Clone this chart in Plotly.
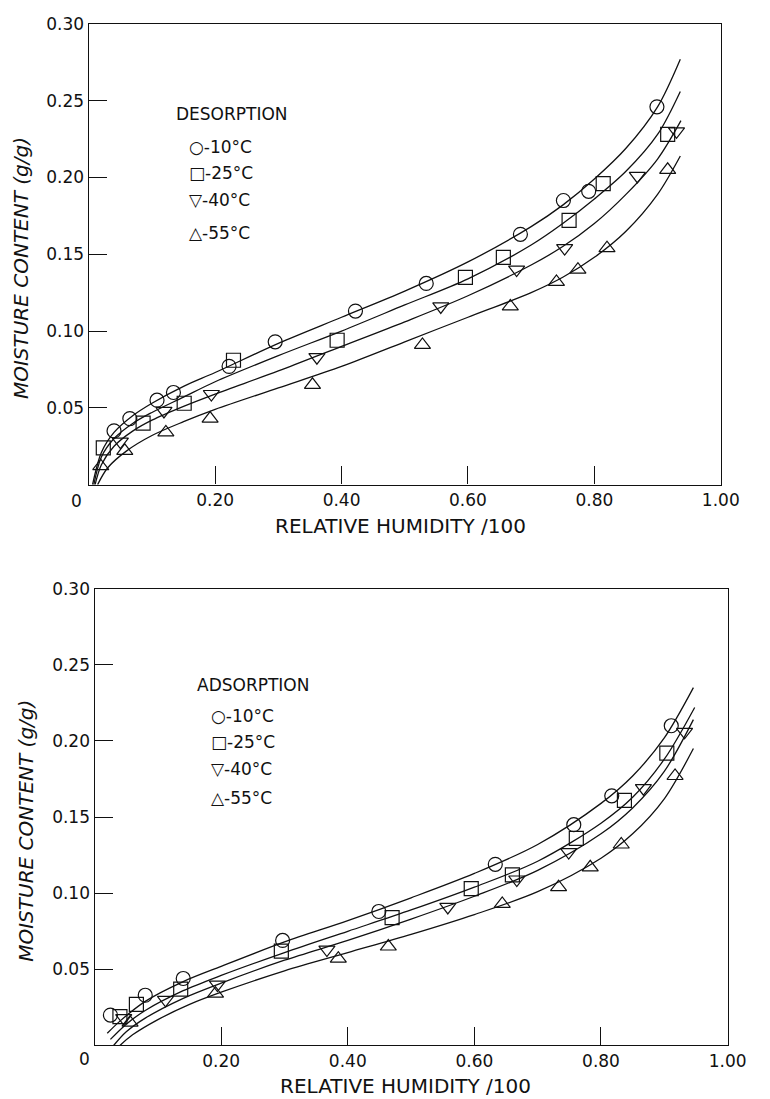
import plotly.graph_objects as go

# ---------------- DATA ----------------
temps = ["10°C", "25°C", "40°C", "55°C"]
symbols = ["circle-open", "square-open", "triangle-down-open", "triangle-up-open"]
legend_glyphs = ["○", "□", "▽", "△"]

# Desorption measured points
des_10_x = [0.04, 0.065, 0.108, 0.134, 0.222, 0.295, 0.422, 0.534, 0.683, 0.751, 0.791, 0.899]
des_10_y = [0.035, 0.043, 0.055, 0.060, 0.077, 0.093, 0.113, 0.131, 0.163, 0.185, 0.191, 0.246]
des_25_x = [0.023, 0.086, 0.151, 0.229, 0.393, 0.596, 0.656, 0.760, 0.814, 0.916]
des_25_y = [0.024, 0.040, 0.053, 0.081, 0.094, 0.135, 0.148, 0.172, 0.196, 0.228]
des_40_x = [0.05, 0.119, 0.194, 0.361, 0.557, 0.677, 0.753, 0.868, 0.930]
des_40_y = [0.028, 0.048, 0.059, 0.083, 0.116, 0.140, 0.154, 0.201, 0.230]
des_55_x = [0.019, 0.057, 0.122, 0.192, 0.354, 0.528, 0.667, 0.740, 0.774, 0.820, 0.916]
des_55_y = [0.012, 0.022, 0.034, 0.043, 0.065, 0.091, 0.116, 0.132, 0.140, 0.154, 0.205]

# Desorption fitted curves (traced)
desc_10_x = [0.006, 0.02, 0.04, 0.07, 0.1, 0.15, 0.2, 0.3, 0.4, 0.5, 0.6, 0.7, 0.75, 0.8, 0.85, 0.9, 0.936]
desc_10_y = [0.0, 0.021, 0.034, 0.045, 0.053, 0.064, 0.073, 0.092, 0.109, 0.126, 0.145, 0.168, 0.182, 0.199, 0.219, 0.246, 0.277]
desc_25_x = [0.008, 0.02, 0.04, 0.07, 0.1, 0.15, 0.2, 0.3, 0.4, 0.5, 0.6, 0.7, 0.75, 0.8, 0.85, 0.9, 0.936]
desc_25_y = [0.0, 0.018, 0.030, 0.040, 0.047, 0.057, 0.067, 0.084, 0.100, 0.117, 0.134, 0.156, 0.170, 0.186, 0.204, 0.228, 0.256]
desc_40_x = [0.01, 0.02, 0.04, 0.07, 0.1, 0.15, 0.2, 0.3, 0.4, 0.5, 0.6, 0.7, 0.75, 0.8, 0.85, 0.9, 0.937]
desc_40_y = [0.0, 0.013, 0.025, 0.035, 0.042, 0.051, 0.059, 0.074, 0.090, 0.106, 0.123, 0.143, 0.155, 0.170, 0.189, 0.212, 0.237]
desc_55_x = [0.014, 0.03, 0.06, 0.1, 0.15, 0.2, 0.3, 0.4, 0.5, 0.6, 0.7, 0.75, 0.8, 0.85, 0.9, 0.936]
desc_55_y = [0.0, 0.011, 0.022, 0.032, 0.041, 0.049, 0.063, 0.077, 0.093, 0.109, 0.125, 0.135, 0.148, 0.165, 0.189, 0.214]

# Adsorption measured points
ads_10_x = [0.025, 0.080, 0.140, 0.297, 0.449, 0.633, 0.757, 0.817, 0.911]
ads_10_y = [0.020, 0.033, 0.044, 0.069, 0.088, 0.119, 0.145, 0.164, 0.210]
ads_25_x = [0.040, 0.066, 0.136, 0.295, 0.470, 0.595, 0.660, 0.761, 0.837, 0.904]
ads_25_y = [0.019, 0.027, 0.037, 0.062, 0.084, 0.103, 0.112, 0.136, 0.161, 0.192]
ads_40_x = [0.046, 0.112, 0.194, 0.367, 0.558, 0.667, 0.749, 0.867, 0.932]
ads_40_y = [0.018, 0.030, 0.040, 0.063, 0.091, 0.109, 0.127, 0.169, 0.206]
ads_55_x = [0.056, 0.191, 0.385, 0.464, 0.644, 0.733, 0.783, 0.832, 0.917]
ads_55_y = [0.015, 0.034, 0.057, 0.065, 0.093, 0.104, 0.117, 0.132, 0.177]

# Adsorption fitted curves (traced)
adsc_10_x = [0.02, 0.04, 0.08, 0.14, 0.2, 0.3, 0.4, 0.5, 0.6, 0.7, 0.8, 0.85, 0.9, 0.946]
adsc_10_y = [0.008, 0.016, 0.029, 0.042, 0.052, 0.068, 0.082, 0.097, 0.113, 0.132, 0.159, 0.177, 0.202, 0.235]
adsc_25_x = [0.025, 0.05, 0.08, 0.14, 0.2, 0.3, 0.4, 0.5, 0.6, 0.7, 0.8, 0.85, 0.9, 0.948]
adsc_25_y = [0.004, 0.014, 0.023, 0.036, 0.046, 0.061, 0.075, 0.089, 0.104, 0.121, 0.146, 0.163, 0.188, 0.222]
adsc_40_x = [0.03, 0.05, 0.08, 0.14, 0.2, 0.3, 0.4, 0.5, 0.6, 0.7, 0.8, 0.85, 0.9, 0.946]
adsc_40_y = [0.0, 0.009, 0.018, 0.031, 0.041, 0.056, 0.069, 0.083, 0.098, 0.115, 0.139, 0.156, 0.180, 0.214]
adsc_55_x = [0.04, 0.06, 0.1, 0.15, 0.2, 0.3, 0.4, 0.5, 0.6, 0.7, 0.8, 0.85, 0.9, 0.946]
adsc_55_y = [0.0, 0.007, 0.017, 0.027, 0.035, 0.049, 0.061, 0.073, 0.086, 0.101, 0.123, 0.139, 0.162, 0.195]

x_tickvals = [0.2, 0.4, 0.6, 0.8, 1.0]
x_ticktext = ["0.20", "0.40", "0.60", "0.80", "1.00"]
y_tickvals = [0.05, 0.10, 0.15, 0.20, 0.25, 0.30]
y_ticktext = ["0.05", "0.10", "0.15", "0.20", "0.25", "0.30"]

# ---------------- FIGURE ----------------
W, H = 770, 1099
FONT = "DejaVu Sans"
INK = "#111111"

des_pts = [(des_10_x, des_10_y), (des_25_x, des_25_y), (des_40_x, des_40_y), (des_55_x, des_55_y)]
des_crv = [(desc_10_x, desc_10_y), (desc_25_x, desc_25_y), (desc_40_x, desc_40_y), (desc_55_x, desc_55_y)]
ads_pts = [(ads_10_x, ads_10_y), (ads_25_x, ads_25_y), (ads_40_x, ads_40_y), (ads_55_x, ads_55_y)]
ads_crv = [(adsc_10_x, adsc_10_y), (adsc_25_x, adsc_25_y), (adsc_40_x, adsc_40_y), (adsc_55_x, adsc_55_y)]

fig = go.Figure()

def add_panel(pts, crv, xa, ya):
    for (cx, cy) in crv:
        fig.add_trace(go.Scatter(x=cx, y=cy, mode="lines", xaxis=xa, yaxis=ya,
                                 line=dict(color=INK, width=1.3, shape="spline", smoothing=0.9),
                                 showlegend=False, hoverinfo="skip"))
    for (px, py), sym, t in zip(pts, symbols, temps):
        fig.add_trace(go.Scatter(x=px, y=py, mode="markers", xaxis=xa, yaxis=ya, name=t,
                                 marker=dict(symbol=sym, size=14, color=INK,
                                             line=dict(color=INK, width=1.2)),
                                 showlegend=False))

add_panel(des_pts, des_crv, "x", "y")
add_panel(ads_pts, ads_crv, "x2", "y2")

def px2fx(p):
    return p / W

def py2fy(p):
    return 1 - p / H

axis_common = dict(showline=True, linecolor=INK, linewidth=1.4, mirror=True,
                   ticks="inside", ticklen=18, tickwidth=1.2, tickcolor=INK,
                   showgrid=False, zeroline=False,
                   tickfont=dict(family=FONT, size=17, color=INK))

fig.update_layout(
    width=W, height=H,
    margin=dict(l=0, r=0, t=0, b=0),
    paper_bgcolor="white", plot_bgcolor="white",
    xaxis=dict(domain=[px2fx(91), px2fx(739)], range=[0, 1], anchor="y",
               tickvals=x_tickvals, ticktext=x_ticktext, **axis_common),
    yaxis=dict(domain=[py2fy(479), py2fy(14)], range=[0, 0.30], anchor="x",
               tickvals=y_tickvals, ticktext=y_ticktext, **axis_common),
    xaxis2=dict(domain=[px2fx(97), px2fx(746)], range=[0, 1], anchor="y2",
                tickvals=x_tickvals, ticktext=x_ticktext, **axis_common),
    yaxis2=dict(domain=[py2fy(1045), py2fy(584)], range=[0, 0.30], anchor="x2",
                tickvals=y_tickvals, ticktext=y_ticktext, **axis_common),
)

ann = []
def text(x, y, s, size=17, xanchor="center", angle=0, italic=False):
    f = dict(family=FONT, size=size, color=INK)
    if italic:
        f["style"] = "italic"
    ann.append(dict(x=px2fx(x), y=py2fy(y), xref="paper", yref="paper", text=s,
                    showarrow=False, xanchor=xanchor, yanchor="middle",
                    textangle=angle, font=f))

# origin "0" labels
text(78, 496, "0")
text(87, 1059, "0")
# axis titles
text(411, 521, "RELATIVE HUMIDITY /100", size=20)
text(416, 1086, "RELATIVE HUMIDITY /100", size=20)
text(21, 260, "MOISTURE CONTENT (g/g)", size=20, angle=-90, italic=True)
text(27, 828, "MOISTURE CONTENT (g/g)", size=20, angle=-90, italic=True)

# legends
text(178, 105, "DESORPTION", size=17, xanchor="left")
for i, (g, t) in enumerate(zip(legend_glyphs, temps)):
    yy = [138, 165, 192, 225][i]
    text(192, yy, g + "-" + t, size=17, xanchor="left")
text(200, 681, "ADSORPTION", size=17, xanchor="left")
for i, (g, t) in enumerate(zip(legend_glyphs, temps)):
    yy = [712, 739, 766, 795][i]
    text(214, yy, g + "-" + t, size=17, xanchor="left")

fig.update_layout(annotations=ann)
fig.write_html("out.html")
